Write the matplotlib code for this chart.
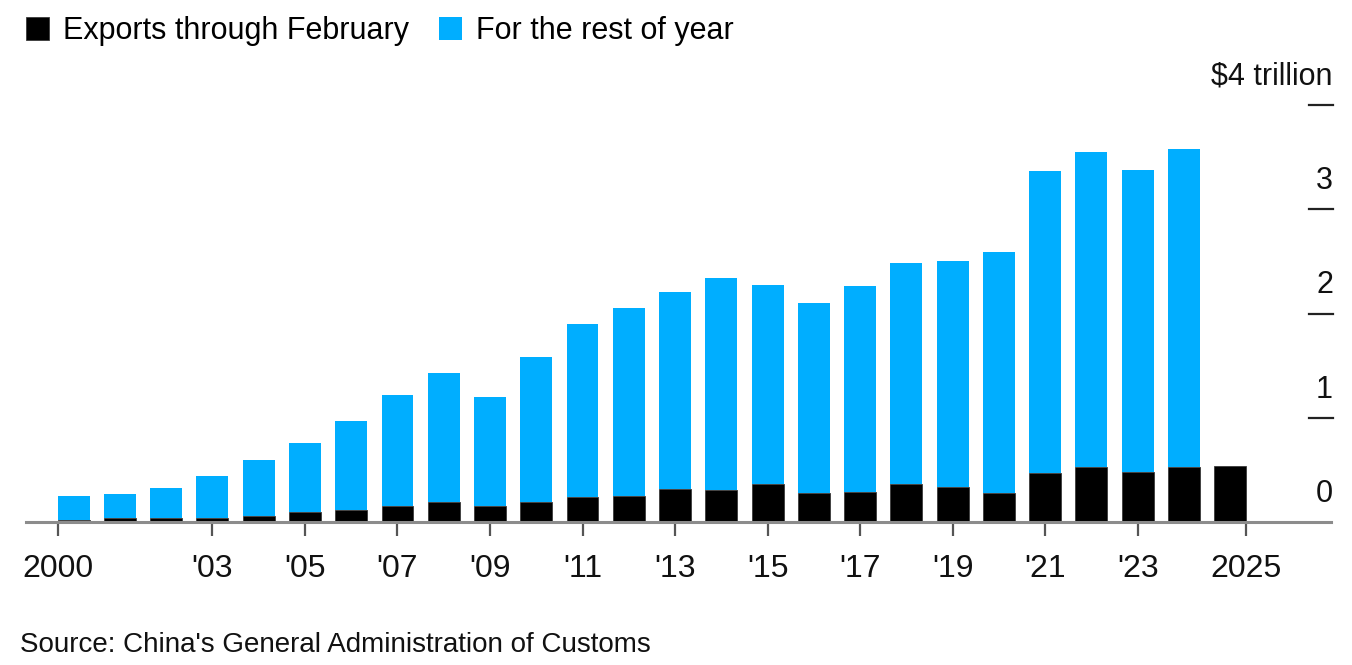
import matplotlib
matplotlib.use("Agg")
import matplotlib.pyplot as plt
import matplotlib.transforms as mtransforms
import numpy as np

years = list(range(2000, 2026))
# Full-year exports ($ trillion); 2025 only has Jan-Feb data
total = [0.249, 0.266, 0.325, 0.438, 0.593, 0.762, 0.969, 1.218, 1.429, 1.202,
         1.578, 1.898, 2.049, 2.209, 2.342, 2.273, 2.098, 2.263, 2.487, 2.499,
         2.590, 3.364, 3.550, 3.380, 3.577, None]
# Exports through February ($ trillion)
janfeb = [0.020, 0.035, 0.035, 0.041, 0.057, 0.093, 0.112, 0.156, 0.190, 0.150,
          0.189, 0.237, 0.249, 0.319, 0.307, 0.361, 0.278, 0.290, 0.364, 0.338,
          0.281, 0.466, 0.530, 0.482, 0.524, 0.534]
rest = [(t - j) if t is not None else 0.0 for t, j in zip(total, janfeb)]

xtick_labels = ["2000", "'03", "'05", "'07", "'09", "'11", "'13", "'15", "'17",
                "'19", "'21", "'23", "2025"]
xtick_years = [2000, 2003, 2005, 2007, 2009, 2011, 2013, 2015, 2017, 2019, 2021, 2023, 2025]
ytick_vals = [0, 1, 2, 3, 4]
ytick_labels = ["0", "1", "2", "3", "$4 trillion"]

series_names = ["Exports through February", "For the rest of year"]

BLACK = "#000000"
BLUE = "#00aeff"
GRAY = "#8c8c8c"
FONT = ["Liberation Sans", "DejaVu Sans"]
plt.rcParams["font.family"] = FONT

W, H = 1352, 665
fig = plt.figure(figsize=(W / 100, H / 100), dpi=100)
ax = fig.add_axes([26 / W, (H - 522) / H, (1331 - 26) / W, (522 - 105) / H])

x = np.arange(len(years))
bw = 0.69
b1 = ax.bar(x, janfeb, width=bw, color=BLACK, edgecolor="#3a3a3a", linewidth=0.6,
            label=series_names[0], zorder=3)
b2 = ax.bar(x, rest, width=bw, bottom=janfeb, color=BLUE, linewidth=0,
            label=series_names[1], zorder=3)

ax.set_xlim(-1.03, 27.18)
ax.set_ylim(0, 4)

for s in ["top", "left", "right"]:
    ax.spines[s].set_visible(False)
ax.spines["bottom"].set_color(GRAY)
ax.spines["bottom"].set_linewidth(2.2)
ax.spines["bottom"].set_zorder(4)

# x ticks: first and last at the edges of the bar span
pos = []
for yv in xtick_years:
    i = years.index(yv)
    if yv == years[0]:
        pos.append(i - bw / 2)
    elif yv == years[-1]:
        pos.append(i + bw / 2)
    else:
        pos.append(i)
ax.set_xticks(pos)
ax.set_xticklabels(xtick_labels, fontsize=23, color="#111111")
ax.tick_params(axis="x", direction="out", length=10, width=1.6, color="#555555", pad=13)

# y ticks on the right, labels above the tick lines
ax.set_yticks([])
trans = mtransforms.blended_transform_factory(ax.transAxes, ax.transData)
for v, lab in zip(ytick_vals, ytick_labels):
    if v > 0:
        ax.plot([0.9835, 1.0015], [v, v], transform=trans, color="#222222",
                lw=1.6, clip_on=False, zorder=5)
    ax.annotate(lab, xy=(1.0015, v), xycoords=trans, xytext=(0, 9.5),
                textcoords="offset points", ha="right", va="bottom",
                fontsize=22, color="#111111", annotation_clip=False)

fig.legend(handles=[b1, b2], labels=series_names, loc="upper left",
           bbox_to_anchor=(14 / W, 1 - 4 / H), ncol=2, frameon=False,
           fontsize=22, handlelength=0.75, handleheight=0.75,
           handletextpad=0.45, columnspacing=1.0, borderaxespad=0)

fig.text(20 / W, 1 - 645 / H, "Source: China's General Administration of Customs",
         fontsize=20, color="#111111", ha="left", va="center")

fig.savefig("out.png", dpi=100)
